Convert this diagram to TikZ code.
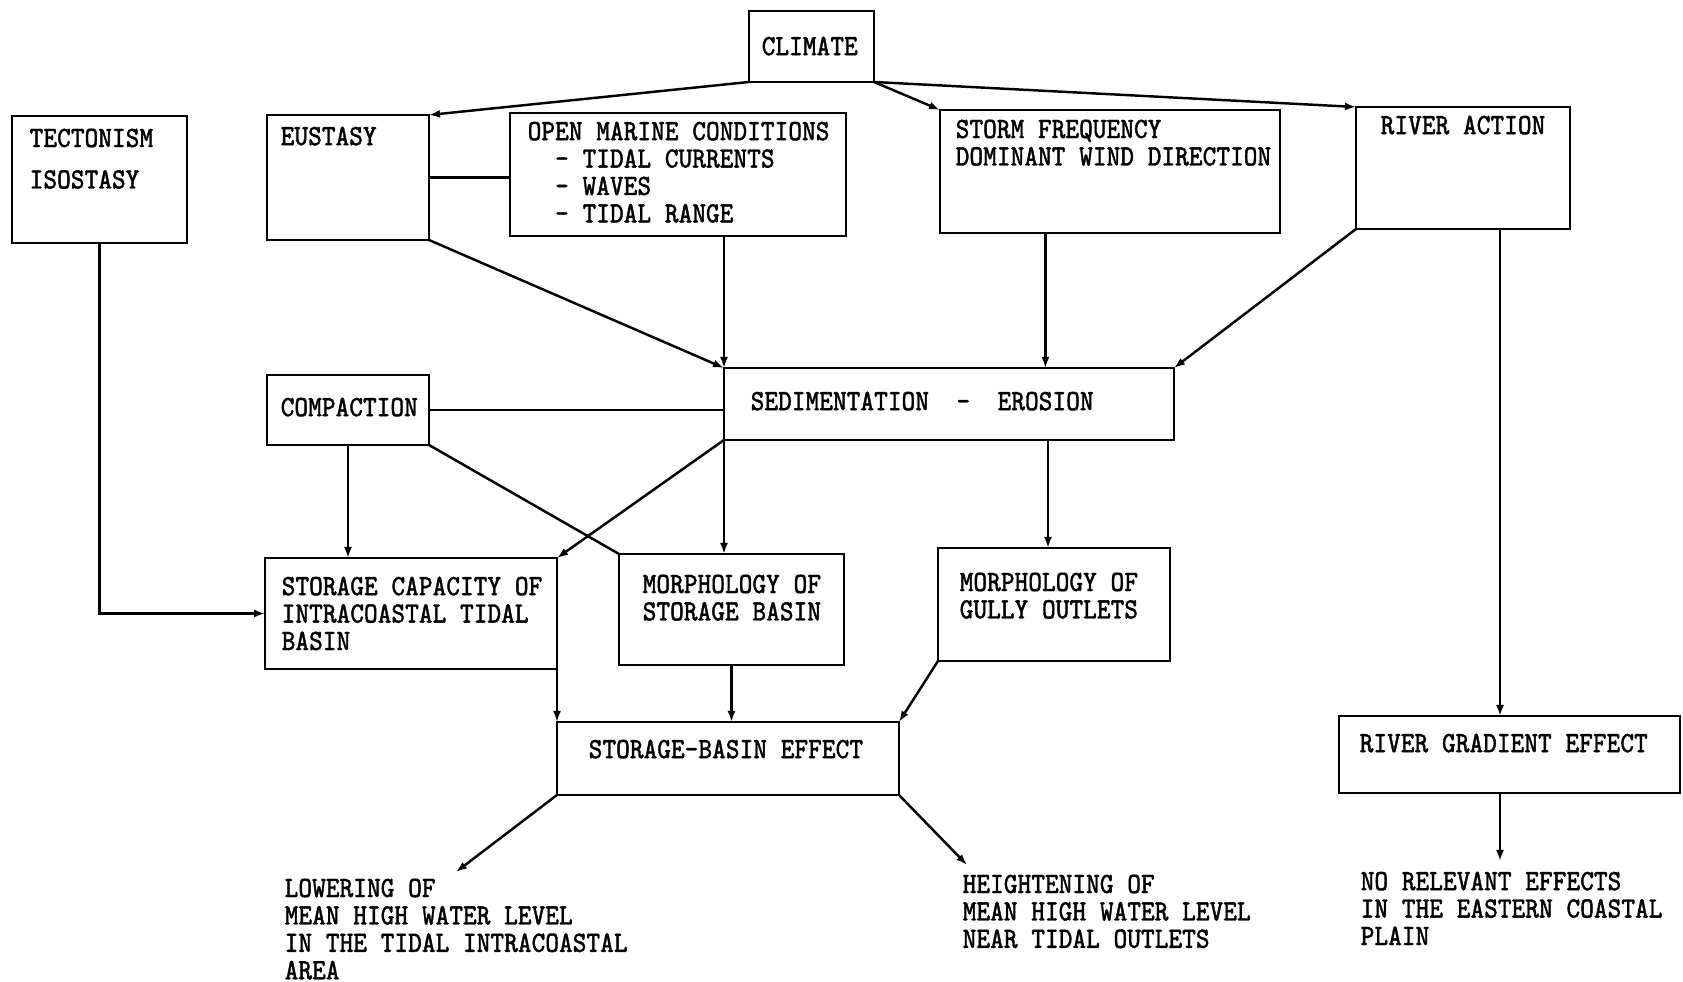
\documentclass[tikz,border=0pt]{standalone}
\usepackage{fontspec}
\newfontfamily\typewr[FakeStretch=0.875,FakeBold=1.2]{Latin Modern Mono}
\usetikzlibrary{arrows.meta}
\usetikzlibrary{calc}
\newcommand\boxfont{\typewr\fontsize{8.4}{7.8}\selectfont}
\tikzset{
    flow box/.style={
        draw,
        rectangle,
        line width=0.8pt,
        inner sep=0pt,
        outer sep=0pt,
        anchor=north west,
    },
    box text/.style={
        anchor=north west,
        align=left,
        inner sep=0pt,
        font=\boxfont,
    },
    flow link/.style={
        line width=0.7pt,
    },
    flow arrow/.style={
        flow link,
        -{Latex[length=1.1mm,width=0.8mm]},
    },
}

\begin{document}
\begin{tikzpicture}

    \useasboundingbox (0, 0) rectangle (16.83, 9.82);

    % top row
    \node[flow box, minimum width=1.25cm, minimum height=0.71cm,
          label={[box text, xshift=1.2mm, yshift=-2.5mm]north west:CLIMATE}] (clim) at (7.49, 9.71) {};
    \node[flow box, minimum width=1.75cm, minimum height=1.27cm,
          label={[box text, xshift=1.7mm, yshift=-1.2mm]north west:{TECTONISM\\[4pt]ISOSTASY}}] (tect) at (0.12, 8.66) {};
    \node[flow box, minimum width=1.62cm, minimum height=1.25cm,
          label={[box text, xshift=1.3mm, yshift=-1.1mm]north west:EUSTASY}] (eus) at (2.67, 8.67) {};
    \node[flow box, minimum width=3.36cm, minimum height=1.23cm,
          label={[box text, xshift=1.7mm, yshift=-0.8mm]north west:{OPEN MARINE CONDITIONS\\
              \phantom{OP}- TIDAL CURRENTS\\\phantom{OP}- WAVES\\\phantom{OP}- TIDAL RANGE}}] (open) at (5.10, 8.69) {};
    \node[flow box, minimum width=3.40cm, minimum height=1.23cm,
          label={[box text, xshift=1.5mm, yshift=-0.9mm]north west:{STORM FREQUENCY\\DOMINANT WIND DIRECTION}}] (storm) at (9.40, 8.72) {};
    \node[flow box, minimum width=2.14cm, minimum height=1.22cm,
          label={[box text, xshift=2.4mm, yshift=-0.8mm]north west:RIVER ACTION}] (river) at (13.56, 8.75) {};

    % middle rows
    \node[flow box, minimum width=4.50cm, minimum height=0.72cm,
          label={[box text, xshift=2.6mm, yshift=-2.3mm]north west:{SEDIMENTATION\phantom{OP}-\phantom{OP}EROSION}}] (sed) at (7.24, 6.14) {};
    \node[flow box, minimum width=1.62cm, minimum height=0.70cm,
          label={[box text, xshift=1.3mm, yshift=-2.2mm]north west:COMPACTION}] (comp) at (2.67, 6.07) {};
    \node[flow box, minimum width=2.92cm, minimum height=1.11cm,
          label={[box text, xshift=1.6mm, yshift=-1.8mm]north west:{STORAGE CAPACITY OF\\INTRACOASTAL TIDAL\\BASIN}}] (cap) at (2.65, 4.24) {};
    \node[flow box, minimum width=2.25cm, minimum height=1.11cm,
          label={[box text, xshift=2.3mm, yshift=-2.0mm]north west:{MORPHOLOGY OF\\STORAGE BASIN}}] (mstor) at (6.19, 4.28) {};
    \node[flow box, minimum width=2.32cm, minimum height=1.13cm,
          label={[box text, xshift=2.1mm, yshift=-2.4mm]north west:{MORPHOLOGY OF\\GULLY OUTLETS}}] (gully) at (9.38, 4.34) {};

    % effects
    \node[flow box, minimum width=3.42cm, minimum height=0.73cm,
          label={[box text, xshift=3.1mm, yshift=-1.7mm]north west:STORAGE-BASIN EFFECT}] (sbe) at (5.57, 2.60) {};
    \node[flow box, minimum width=3.41cm, minimum height=0.77cm,
          label={[box text, xshift=2.0mm, yshift=-1.7mm]north west:RIVER GRADIENT EFFECT}] (rgrad) at (13.39, 2.66) {};

    \node[box text] (lower) at (2.84, 1.04) {LOWERING OF\\MEAN HIGH WATER LEVEL\\IN THE TIDAL INTRACOASTAL\\AREA};
    \node[box text] (raise) at (9.62, 1.08) {HEIGHTENING OF\\MEAN HIGH WATER LEVEL\\NEAR TIDAL OUTLETS};
    \node[box text] (norel) at (13.60, 1.11) {NO RELEVANT EFFECTS\\IN THE EASTERN COASTAL\\PLAIN};

    \coordinate (lowtip) at (4.56, 1.10);
    \coordinate (hightip) at (9.67, 1.17);
    \coordinate (notip) at (15.00, 1.21);

    % connectors
    \draw[flow arrow] (clim.south west) -- (eus.north east);
    \draw[flow arrow] (clim.south east) -- (storm.north west);
    \draw[flow arrow] (clim.south east) -- (river.north west);
    \draw[flow link] (eus.east) -- (eus.east -| open.west);
    \draw[flow arrow] (eus.south east) -- (sed.north west);
    \draw[flow arrow] (sed.north west |- open.south) -- (sed.north west);
    \draw[flow arrow] ($(storm.south west)!0.31!(storm.south east)$) coordinate (st) -- (st |- sed.north);
    \draw[flow arrow] (river.south west) -- (sed.north east);
    \draw[flow arrow] (notip |- river.south) -- (notip |- rgrad.north);

    \draw[flow link] (comp.east) -- (comp.east -| sed.west);
    \draw[flow arrow] (comp.south) -- (comp.south |- cap.north);
    \draw[flow link] (comp.south east) -- (mstor.north west);
    \draw[flow arrow] (sed.south west) -- (cap.north east);
    \draw[flow arrow] (sed.south west) -- (sed.south west |- mstor.north);
    \draw[flow arrow] ($(sed.south west)!0.72!(sed.south east)$) coordinate (sg) -- (sg |- gully.north);
    \draw[flow arrow] (tect.south) |- (cap.west);

    \draw[flow arrow] (cap.south east) -- (cap.south east |- sbe.north);
    \draw[flow arrow] (mstor.south) -- (mstor.south |- sbe.north);
    \draw[flow arrow] (gully.south west) -- (sbe.north east);
    \draw[flow arrow] (sbe.south west) -- (lowtip);
    \draw[flow arrow] (sbe.south east) -- (hightip);
    \draw[flow arrow] (notip |- rgrad.south) -- (notip);

\end{tikzpicture}
\end{document}
